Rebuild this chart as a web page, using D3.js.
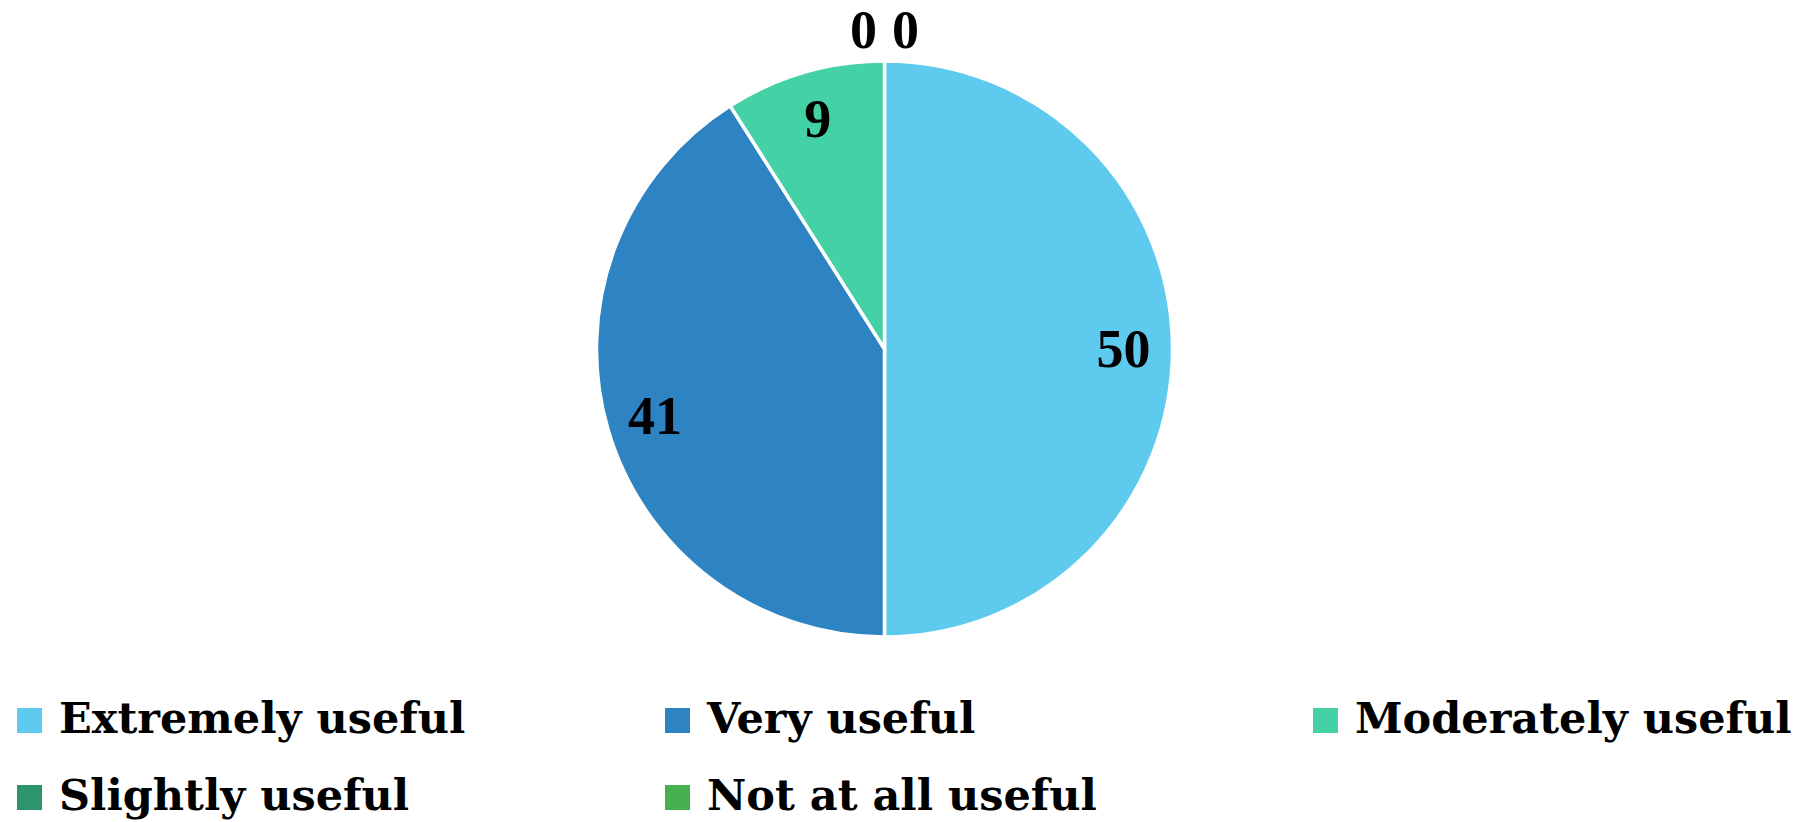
<!DOCTYPE html>
<html>
<head>
<meta charset="utf-8">
<script src="https://cdn.jsdelivr.net/npm/d3@7"></script>
<style>
  html, body { margin: 0; padding: 0; background: #fff; }
  svg { display: block; }
</style>
</head>
<body>
<svg id="chart" width="1814" height="822"></svg>
<script>
const categories = ["Extremely useful", "Very useful", "Moderately useful", "Slightly useful", "Not at all useful"];
const values = [50, 41, 9, 0, 0];
const colors = ["#5ECBEE", "#2E84C3", "#44D1A5", "#2E946C", "#46B050"];

const W = 1814, H = 822;
const cx = 884.5, cy = 349, R = 288;
const labelFont = "'Liberation Serif', 'Times New Roman', serif";
const legendFont = "'DejaVu Serif', serif";

const svg = d3.select("#chart");
const g = svg.append("g").attr("transform", `translate(${cx},${cy})`);

const pie = d3.pie().sort(null).value(d => d.value);
const data = categories.map((c, i) => ({ name: c, value: values[i], color: colors[i] }));
const arcs = pie(data);

const arc = d3.arc().innerRadius(0).outerRadius(R);
const labelArc = d3.arc().innerRadius(R * 0.83).outerRadius(R * 0.83);
const outerArc = d3.arc().innerRadius(R + 31).outerRadius(R + 31);

g.selectAll("path.slice")
  .data(arcs.filter(a => a.value > 0))
  .join("path")
  .attr("class", "slice")
  .attr("d", arc)
  .attr("fill", d => d.data.color)
  .attr("stroke", "#fff")
  .attr("stroke-width", 3.5)
  .attr("stroke-linejoin", "miter");

// Labels: non-zero inside, zero values outside at the top, dodged horizontally
const zeroArcs = arcs.filter(a => a.value === 0);
const dodge = 42;
g.selectAll("text.lbl")
  .data(arcs)
  .join("text")
  .attr("class", "lbl")
  .attr("transform", d => {
    if (d.value > 0) {
      const [x, y] = labelArc.centroid(d);
      return `translate(${x},${y})`;
    }
    const k = zeroArcs.indexOf(d);
    const [x, y] = outerArc.centroid(d);
    return `translate(${x + (k - (zeroArcs.length - 1) / 2) * dodge},${y})`;
  })
  .attr("text-anchor", "middle")
  .attr("dominant-baseline", "central")
  .attr("font-family", labelFont)
  .attr("font-weight", "bold")
  .attr("font-size", 54)
  .attr("fill", "#000")
  .text(d => d.data.value);

// Legend
const colX = [17, 665, 1313];
const rowY = [733, 810];
const legend = svg.append("g");
const items = legend.selectAll("g.item")
  .data(data)
  .join("g")
  .attr("class", "item")
  .attr("transform", (d, i) => `translate(${colX[i % 3]},${rowY[Math.floor(i / 3)]})`);
items.append("rect")
  .attr("x", 0).attr("y", -25)
  .attr("width", 25).attr("height", 25)
  .attr("fill", d => d.color);
items.append("text")
  .attr("x", 42).attr("y", 0)
  .attr("font-family", legendFont)
  .attr("font-weight", "bold")
  .attr("font-size", 43)
  .attr("fill", "#000")
  .text(d => d.name);
</script>
</body>
</html>
